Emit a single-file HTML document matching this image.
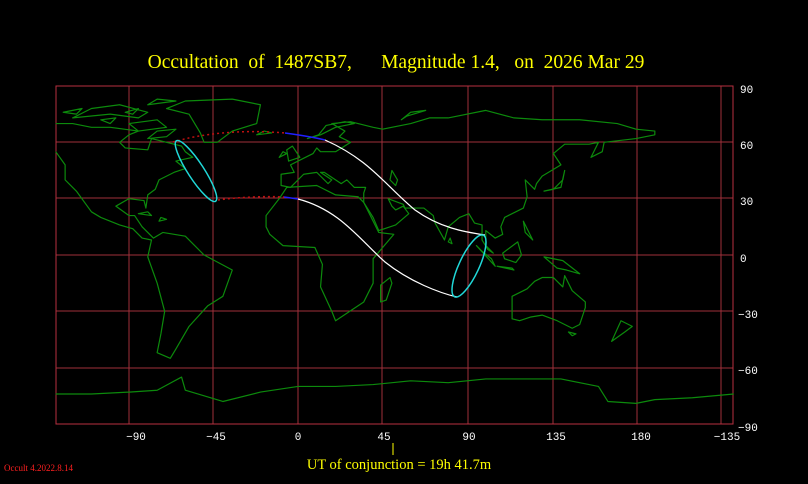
<!DOCTYPE html>
<html><head><meta charset="utf-8"><style>
html,body{margin:0;padding:0;background:#000;width:808px;height:484px;overflow:hidden}
svg{display:block}
.t{font-family:"Liberation Mono",monospace;font-size:11px;fill:#fff}
</style></head><body>
<svg width="808" height="484" viewBox="0 0 808 484">
<rect width="808" height="484" fill="#000"/>
<text x="396" y="68" text-anchor="middle" font-family="Liberation Serif,serif" font-size="19.5" fill="#ffff00" xml:space="preserve">Occultation  of  1487SB7,      Magnitude 1.4,   on  2026 Mar 29</text>
<!-- grid -->
<g stroke="#a0303a" stroke-width="1">
<line x1="129" y1="86" x2="129" y2="424"/><line x1="213" y1="86" x2="213" y2="424"/><line x1="298" y1="86" x2="298" y2="424"/>
<line x1="382" y1="86" x2="382" y2="424"/><line x1="468" y1="86" x2="468" y2="424"/><line x1="553" y1="86" x2="553" y2="424"/>
<line x1="637" y1="86" x2="637" y2="424"/><line x1="721" y1="86" x2="721" y2="424"/>
<line x1="56" y1="142" x2="733" y2="142"/><line x1="56" y1="198" x2="733" y2="198"/><line x1="56" y1="255" x2="733" y2="255"/>
<line x1="56" y1="311" x2="733" y2="311"/><line x1="56" y1="368" x2="733" y2="368"/>
</g>
<rect x="56" y="86" width="677" height="338" fill="none" stroke="#b83040" stroke-width="1"/>
<!-- continents -->
<g transform="translate(298,255) scale(1.878,-1.878)" fill="none" stroke="#0c8a0c" stroke-width="1.2" stroke-linejoin="round">
<path vector-effect="non-scaling-stroke" d="M-129,55 L-124,48 -124,40 -118,34 -110,23 -105,20 -95,16 -88,14 -83,9 -78,8 -80,-1 -75,-15 -71,-30 -73,-42 -75,-52 -68,-55 -65,-50 -58,-38 -48,-27 -40,-22 -35,-8 -50,0 -60,10 -72,12 -77,9 -83,15 -87,21 -90,21 -97,26 -90,30 -82,29 -81,25 -80,32 -76,35 -74,40 -70,42 -66,44 -60,46 -65,50 -56,52 -60,55 -62,58 -70,60 -78,62 -80,56 -92,57 -95,60 -90,64 -85,66 -100,68 -110,68 -120,70 -129,70"/>
<path vector-effect="non-scaling-stroke" d="M-50,60 L-43,60 -35,66 -22,70 -20,80 -35,83 -60,82 -70,78 -58,75 -55,70 -52,65 Z"/>
<path vector-effect="non-scaling-stroke" d="M-120,73 L-100,75 -85,73 -80,76 -95,80 -110,78 Z M-90,70 L-75,72 -70,68 -85,66 Z M-80,80 L-65,82 -75,83 Z M-80,62 L-70,63 -65,67 -75,66 Z M-125,76 L-115,78 -118,75 Z M-105,72 L-97,73 -100,70 Z M-92,76 L-85,78 -88,75 Z"/>
<path vector-effect="non-scaling-stroke" d="M-17,15 L-17,21 -10,30 -6,36 10,37 20,32 32,31 35,28 43,12 51,11 40,-2 40,-15 35,-25 20,-35 18,-30 12,-17 13,-5 9,4 -8,5 -15,11 Z"/>
<path vector-effect="non-scaling-stroke" d="M-9,37 L-9,43 -2,44 -4,48 2,51 8,54 10,57 12,55 20,55 28,60 22,63 25,66 18,70 28,71 40,68 45,67 60,70 70,73 80,73 100,77 115,73 130,72 150,72 170,70 180,67 190,66 190,64 180,62 163,60 162,55 156,52 160,60 155,59 142,59 136,54 140,48 130,42 127,38 126,35 121,40 122,31 120,25 110,20 108,15 109,11 105,9 100,13 100,5 104,1 101,3 98,8 98,16 94,17 91,22 86,20 80,15 78,8 73,17 72,21 67,25 57,25 56,27 48,30 50,26 52,24 56,26 59,22 52,16 43,13 40,20 35,28 35,33 36,36 30,36 26,40 23,38 20,40 14,44 12,44 18,40 16,38 10,44 3,43 -4,36 Z"/>
<path vector-effect="non-scaling-stroke" d="M5,62 L11,64 15,69 25,71 30,70 20,68 12,64 Z M-5,50 L1,52 -3,58 -6,56 Z M-10,52 L-6,54 -8,55 Z M-22,64 L-14,65 -18,66 Z M50,45 L53,40 52,37 49,40 Z M55,72 L60,76 68,77 58,74 Z"/>
<path vector-effect="non-scaling-stroke" d="M114,-22 L114,-34 118,-35 124,-33 130,-32 138,-35 146,-39 150,-37 153,-28 153,-25 146,-19 142,-11 141,-17 136,-12 130,-12 126,-14 122,-18 Z"/>
<path vector-effect="non-scaling-stroke" d="M44,-25 L47,-24 50,-15 49,-12 44,-16 Z M95,5 L105,-6 103,-2 98,2 Z M106,-6 L115,-8 114,-7 Z M109,1 L117,7 119,0 116,-4 110,-2 Z M131,34 L136,35 141,40 142,45 140,36 Z M120,18 L122,14 125,8 121,12 Z M131,-1 L141,-3 150,-10 143,-8 138,-7 Z M167,-46 L174,-41 178,-38 172,-35 Z M80,7 L81,9 82,6 Z M144,-41 L148,-42 146,-43 Z M-73,20 L-70,19 -74,18 Z M-85,22 L-78,21 -80,23 Z"/>
<path vector-effect="non-scaling-stroke" d="M-129,-74 L-110,-74 -90,-73 -75,-72 -62,-65 -60,-72 -40,-78 -20,-73 0,-70 20,-70 40,-69 60,-67 80,-68 100,-66 120,-66 140,-66 160,-70 165,-78 180,-79 190,-77 210,-76 232,-74"/>
</g>
<!-- paths -->
<g fill="none">
<path d="M173,142 C200,134 240,129 285,133" stroke="#c01010" stroke-width="1.5" stroke-dasharray="2,3"/>
<path d="M218,200 C240,197 265,196 284,197" stroke="#c01010" stroke-width="1.5" stroke-dasharray="2,3"/>
<path d="M285,133 C300,135 313,137 325,140" stroke="#2020ff" stroke-width="1.5"/>
<path d="M284,197 L298,199" stroke="#2020ff" stroke-width="1.5"/>
<path d="M325,140 C370,160 385,185 415,210 C440,228 465,232 485,235" stroke="#fff" stroke-width="1.2"/>
<path d="M298,199 C340,210 360,240 385,262 C410,282 440,293 457,297" stroke="#fff" stroke-width="1.2"/>
<ellipse cx="196" cy="171" rx="8" ry="36" transform="rotate(-33 196 171)" stroke="#20d8d8" stroke-width="1.5"/>
<ellipse cx="469" cy="266" rx="10" ry="34" transform="rotate(25 469 266)" stroke="#20d8d8" stroke-width="1.5"/>
</g>
<!-- axis labels -->
<g class="t" text-anchor="middle">
<text x="136" y="440">−90</text><text x="216" y="440">−45</text><text x="298" y="440">0</text>
<text x="384" y="440">45</text><text x="469" y="440">90</text><text x="556" y="440">135</text>
<text x="641" y="440">180</text><text x="727" y="440">−135</text>
</g>
<g class="t">
<text x="740" y="93">90</text><text x="740" y="149">60</text><text x="740" y="205">30</text>
<text x="740" y="262">0</text><text x="738" y="318">−30</text><text x="738" y="374">−60</text><text x="738" y="431">−90</text>
</g>
<line x1="393" y1="443" x2="393" y2="455" stroke="#ffff00"/>
<text x="399" y="469" text-anchor="middle" font-family="Liberation Serif,serif" font-size="14.5" fill="#ffff00">UT of conjunction = 19h 41.7m</text>
<text x="4" y="471" font-family="Liberation Serif,serif" font-size="9" fill="#ff2020">Occult 4.2022.8.14</text>
</svg>
</body></html>
